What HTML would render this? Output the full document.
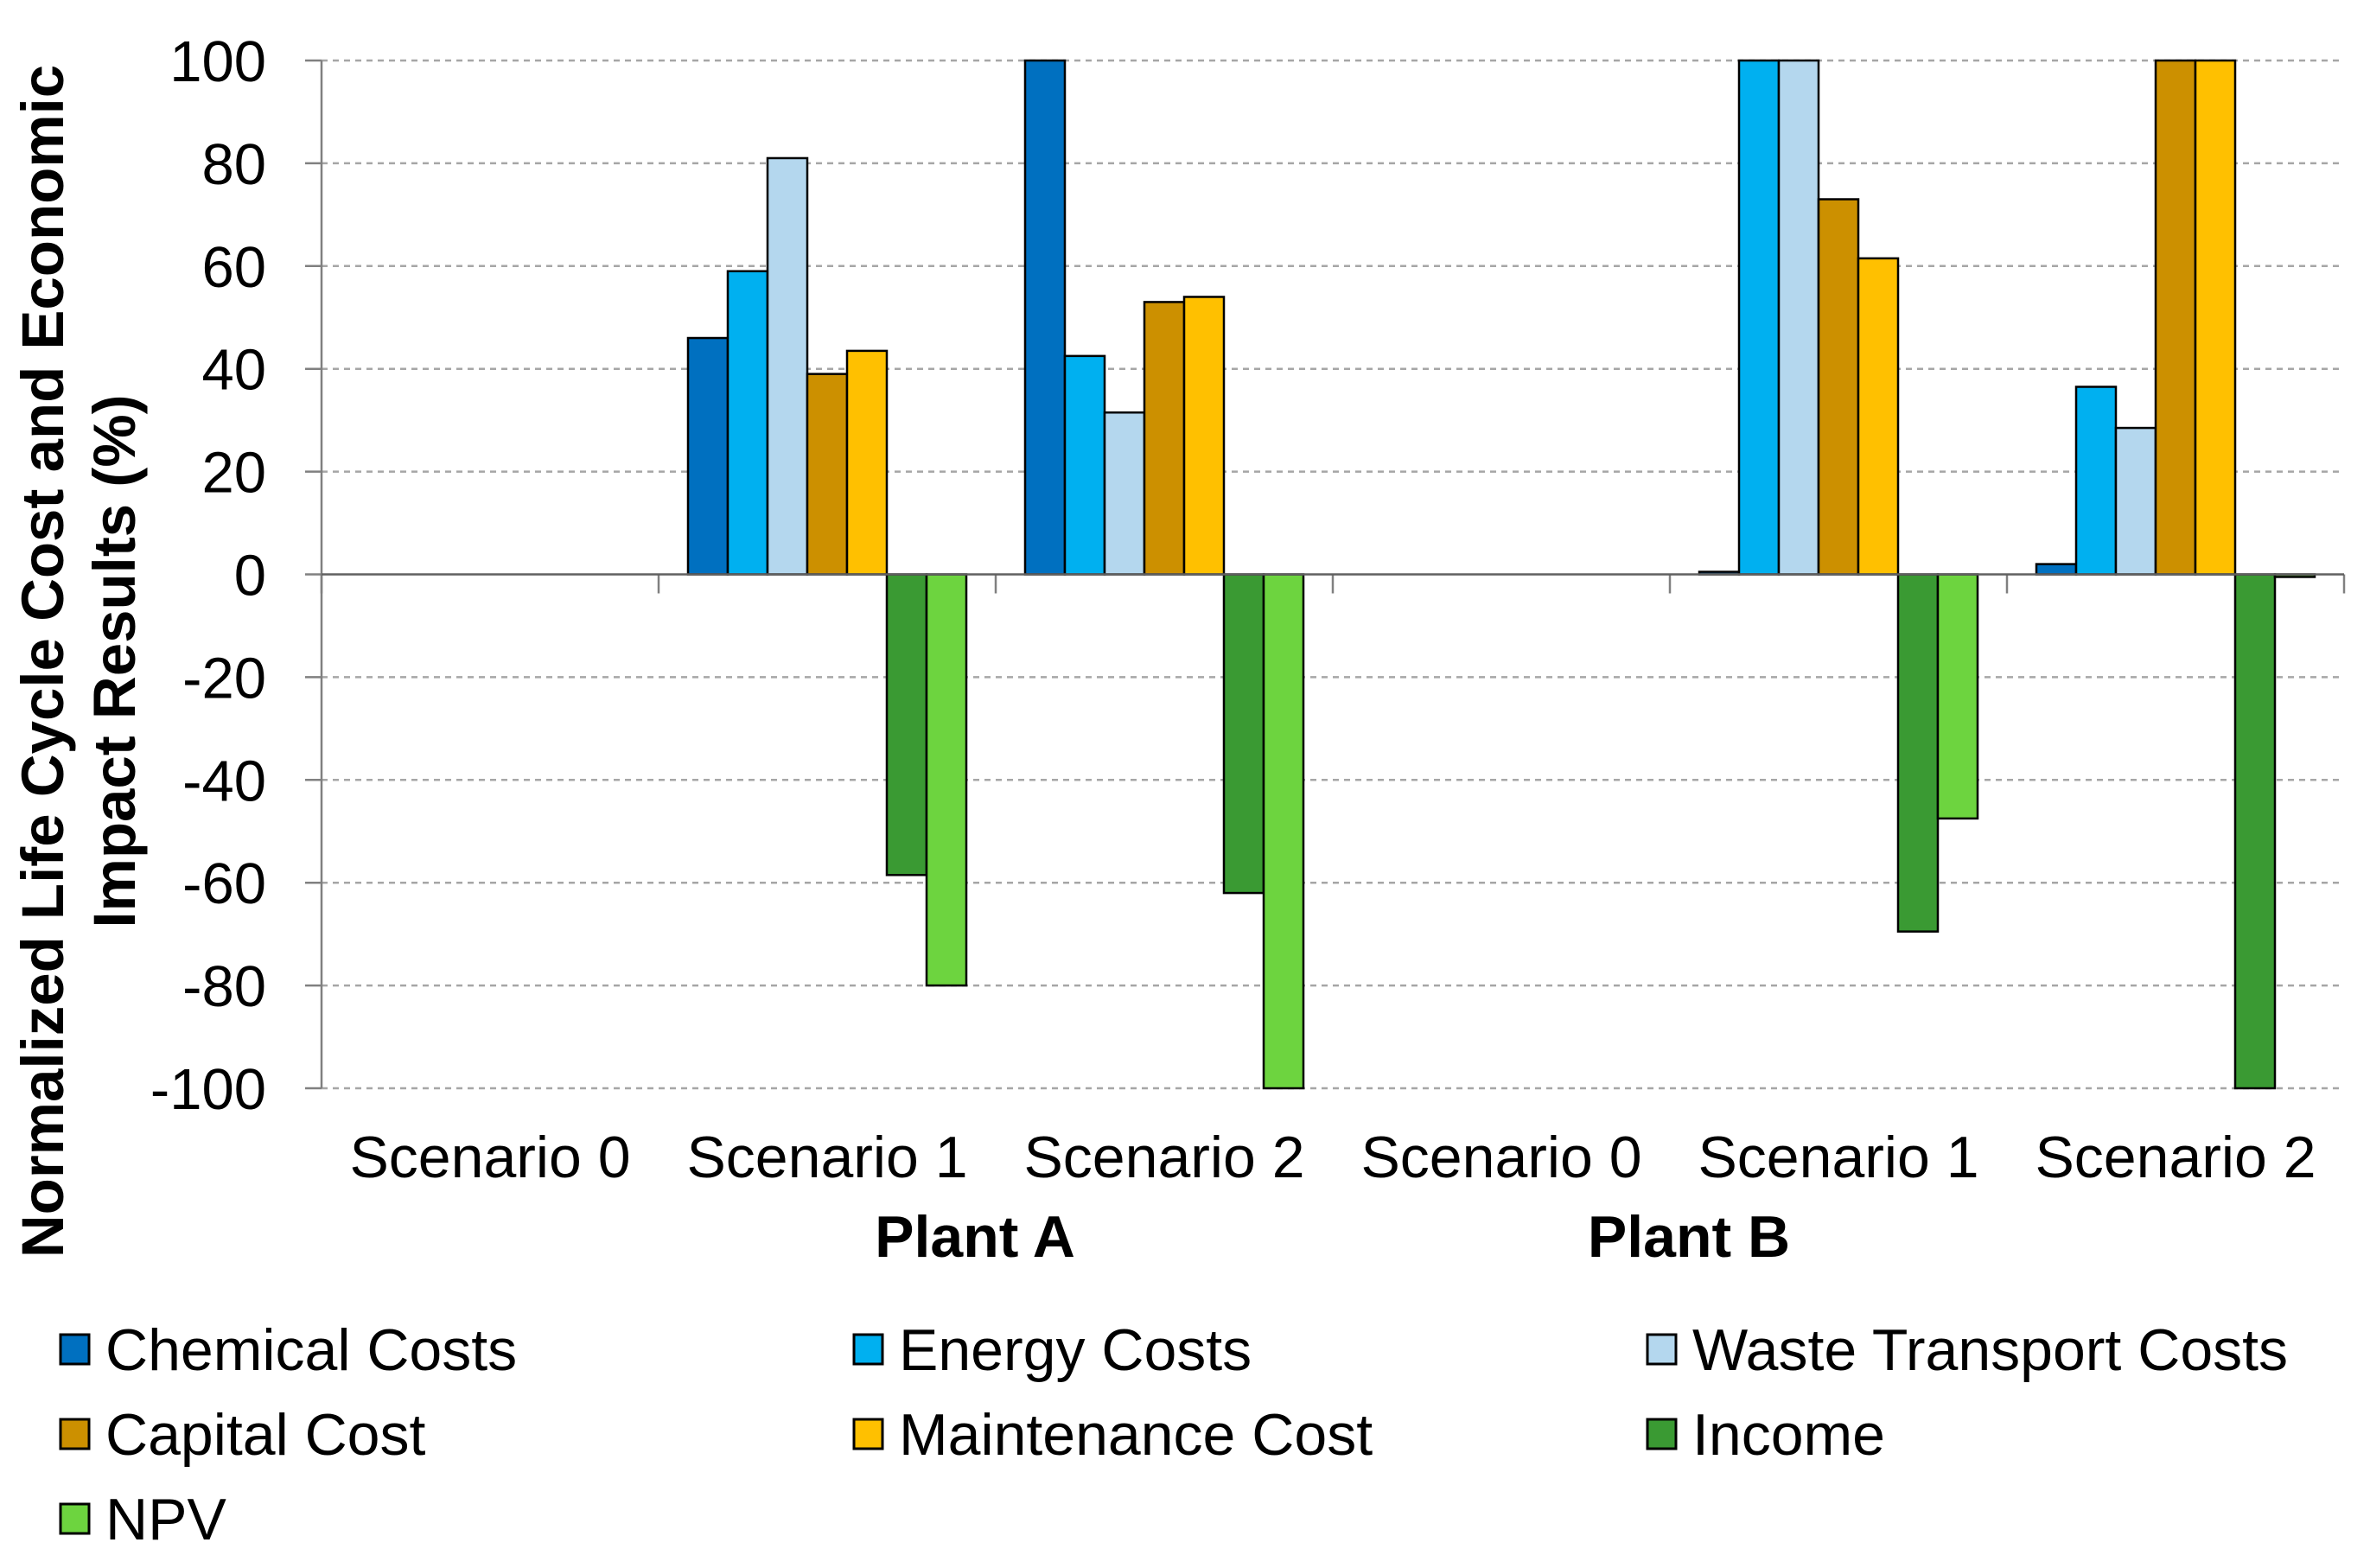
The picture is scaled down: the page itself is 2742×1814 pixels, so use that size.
<!DOCTYPE html>
<html><head><meta charset="utf-8"><style>
html,body{margin:0;padding:0;background:#fff;}
svg{display:block;font-family:"Liberation Sans",Arial,sans-serif;}
</style></head><body>
<svg id="chart" width="2742" height="1814" viewBox="0 0 2742 1814" xmlns="http://www.w3.org/2000/svg">
<g id="grid"></g>
<g id="bars"></g>
<g id="axes"></g>
<g transform="translate(0,765) rotate(-90)" font-weight="bold" font-size="69" text-anchor="middle">
<text x="0" y="73">Normalized Life Cycle Cost and Economic</text>
<text x="0" y="156">Impact Results (%)</text>
</g>
<text x="1128" y="1454" font-size="68" font-weight="bold" text-anchor="middle">Plant A</text>
<text x="1954" y="1454" font-size="68" font-weight="bold" text-anchor="middle">Plant B</text>
<g id="legend"></g>
</svg>
<script>
const categories = ["Scenario 0","Scenario 1","Scenario 2","Scenario 0","Scenario 1","Scenario 2"];
const seriesNames = ["Chemical Costs","Energy Costs","Waste Transport Costs","Capital Cost","Maintenance Cost","Income","NPV"];
const seriesColors = ["#0070C0","#00B0F0","#B4D7EE","#CC9000","#FFC000","#3A9A33","#6DD43F"];
const chemical = [0,46,100,0,0.5,2];
const energy = [0,59,42.5,0,100,36.5];
const waste = [0,81,31.5,0,100,28.5];
const capital = [0,39,53,0,73,100];
const maintenance = [0,43.5,54,0,61.5,100];
const income = [0,-58.5,-62,0,-69.5,-100];
const npv = [0,-80,-100,0,-47.5,-0.5];
const yTicks = [100,80,60,40,20,0,-20,-40,-60,-80,-100];

const series = [chemical,energy,waste,capital,maintenance,income,npv];
const NS="http://www.w3.org/2000/svg";
const X0=372, X1=2712, catW=(X1-X0)/categories.length, barW=46;
const yTop=70, yBot=1259;
const y = v => yTop + (100 - v)/200*(yBot-yTop);
function mk(tag, attrs, parent){const e=document.createElementNS(NS,tag);for(const k in attrs)e.setAttribute(k,attrs[k]);parent.appendChild(e);return e;}
const grid=document.getElementById('grid'), bars=document.getElementById('bars'), axes=document.getElementById('axes'), legend=document.getElementById('legend');

yTicks.forEach(t=>{
  if(t!==0){
    const l=mk('line',{x1:X0,x2:X1,y1:y(t),y2:y(t),stroke:'#a6a6a6','stroke-width':2.5,'stroke-dasharray':'7,6'},grid);
    
    
  }
  const tk=mk('line',{x1:X0-19,x2:X0,y1:y(t),y2:y(t),stroke:'#808080','stroke-width':2.5},axes);
  
  
  const tx=mk('text',{x:308,y:y(t)+24,'font-size':67,'text-anchor':'end',fill:'#000'},axes);
  tx.textContent=t;
  
  
});

categories.forEach((c,i)=>{
  const cx0=X0+i*catW;
  const start=cx0+(catW-barW*series.length)/2;
  series.forEach((s,j)=>{
    const v=s[i];
    if(v===0) return;
    const top=Math.min(y(v),y(0)), h=Math.max(Math.abs(y(v)-y(0)),1.5);
    const r=mk('rect',{x:start+j*barW,y:top,width:barW,height:h,fill:seriesColors[j],stroke:'#000','stroke-width':2.5},bars);
    
    
  });
  const lb=mk('text',{x:cx0+catW/2,y:1362,'font-size':68,'text-anchor':'middle'},axes);
  lb.textContent=c;
  
  
});
for(let i=0;i<=categories.length;i++){
  const xx=X0+i*catW;
  const tk=mk('line',{x1:xx,x2:xx,y1:y(0),y2:y(0)+22,stroke:'#808080','stroke-width':2.5},axes);
  
  
}
const ya=mk('line',{x1:X0,x2:X0,y1:yTop,y2:yBot,stroke:'#808080','stroke-width':2.5},axes);


const xa=mk('line',{x1:X0,x2:X1,y1:y(0),y2:y(0),stroke:'#606060','stroke-width':2.5},axes);



const legCols=[70,988,1906], legRows=[1561,1659,1757];
seriesNames.forEach((n,j)=>{
  const cx=legCols[j%3], cy=legRows[Math.floor(j/3)];
  const g=mk('g',{},legend);
  
  
  mk('rect',{x:cx,y:cy-17,width:33,height:34,fill:seriesColors[j],stroke:'#000','stroke-width':3},g);
  const t=mk('text',{x:cx+52,y:cy+24,'font-size':68},g);
  t.textContent=n;
});
</script>
</body></html>
